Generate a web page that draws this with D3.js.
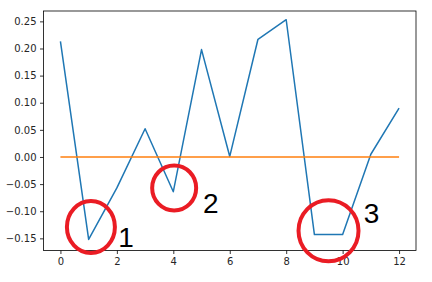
<!DOCTYPE html>
<html>
<head>
<meta charset="utf-8">
<script src="https://cdn.jsdelivr.net/npm/d3@7"></script>
<style>
  body { margin: 0; background: #fff; }
  svg { display: block; }
  .tick text { font-family: "DejaVu Sans", sans-serif; font-size: 10px; fill: #262626; }
</style>
</head>
<body>
<svg id="chart"></svg>
<script>
let xs = [0, 1, 2, 3, 4, 5, 6, 7, 8, 9, 10, 11, 12]
let values = [0.213, -0.152, -0.057, 0.052, -0.064, 0.198, 0.001, 0.217, 0.253, -0.143, -0.143, 0.005, 0.090]
let baseline = [0, 0]
let xTicks = [0, 2, 4, 6, 8, 10, 12]
let yTicks = [-0.15, -0.10, -0.05, 0.00, 0.05, 0.10, 0.15, 0.20, 0.25]
// red marks drawn on top: centre in data units, radius in px, label
let marks = [
  {x: 1.08, y: -0.129, rx: 24, ry: 26, label: '1', lx: 2.05, ly: -0.1668},
  {x: 4.03, y: -0.057, rx: 22, ry: 22.5, label: '2', lx: 5.05, ly: -0.1026},
  {x: 9.5, y: -0.136, rx: 30, ry: 30.5, label: '3', lx: 10.75, ly: -0.1211}
]

let width = 432
let height = 282
let padLeft = 43.5, padRight = 416, padTop = 11, padBottom = 250.5

let svg = d3.select('#chart').attr('width', width).attr('height', height)

let xScale = d3.scaleLinear().domain([-0.6, 12.6]).range([padLeft, padRight])
let yScale = d3.scaleLinear().domain([-0.1724, 0.2691]).range([padBottom, padTop])

let xAxis = d3.axisBottom(xScale).tickValues(xTicks).tickSize(3.5).tickPadding(3.5)
  .tickFormat(d3.format('d'))
let yAxis = d3.axisLeft(yScale).tickValues(yTicks).tickSize(3.5).tickPadding(3.5)
  .tickFormat(d => d3.format('.2f')(d).replace('-', '\u2212'))

let gx = svg.append('g').attr('transform', 'translate(0,' + padBottom + ')').call(xAxis)
let gy = svg.append('g').attr('transform', 'translate(' + padLeft + ',0)').call(yAxis)
svg.selectAll('.domain').remove()
svg.selectAll('.tick line').attr('stroke', '#000').attr('stroke-width', 0.8)
gx.selectAll('text').attr('dy', '0.71em')

let line = d3.line().x((d, i) => xScale(xs[i])).y(d => yScale(d))

svg.append('path')
  .datum(values)
  .attr('fill', 'none')
  .attr('stroke', '#1f77b4')
  .attr('stroke-width', 1.5)
  .attr('stroke-linejoin', 'round')
  .attr('d', line)

svg.append('line')
  .attr('x1', xScale(xs[0])).attr('x2', xScale(xs[xs.length - 1]))
  .attr('y1', yScale(baseline[0])).attr('y2', yScale(baseline[1]))
  .attr('stroke', '#ff7f0e')
  .attr('stroke-width', 1.5)

svg.append('rect')
  .attr('x', padLeft).attr('y', padTop)
  .attr('width', padRight - padLeft).attr('height', padBottom - padTop)
  .attr('fill', 'none').attr('stroke', '#000').attr('stroke-width', 0.8)

svg.selectAll('ellipse.mark')
  .data(marks)
  .enter()
  .append('ellipse')
  .attr('class', 'mark')
  .attr('cx', d => xScale(d.x))
  .attr('cy', d => yScale(d.y))
  .attr('rx', d => d.rx)
  .attr('ry', d => d.ry)
  .attr('fill', 'none')
  .attr('stroke', '#ea1c24')
  .attr('stroke-width', 4)

svg.selectAll('text.mark')
  .data(marks)
  .enter()
  .append('text')
  .attr('class', 'mark')
  .attr('x', d => xScale(d.lx))
  .attr('y', d => yScale(d.ly))
  .attr('font-family', 'Liberation Sans, Arial, sans-serif')
  .attr('font-size', 28)
  .attr('fill', '#000')
  .text(d => d.label)
</script>
</body>
</html>
